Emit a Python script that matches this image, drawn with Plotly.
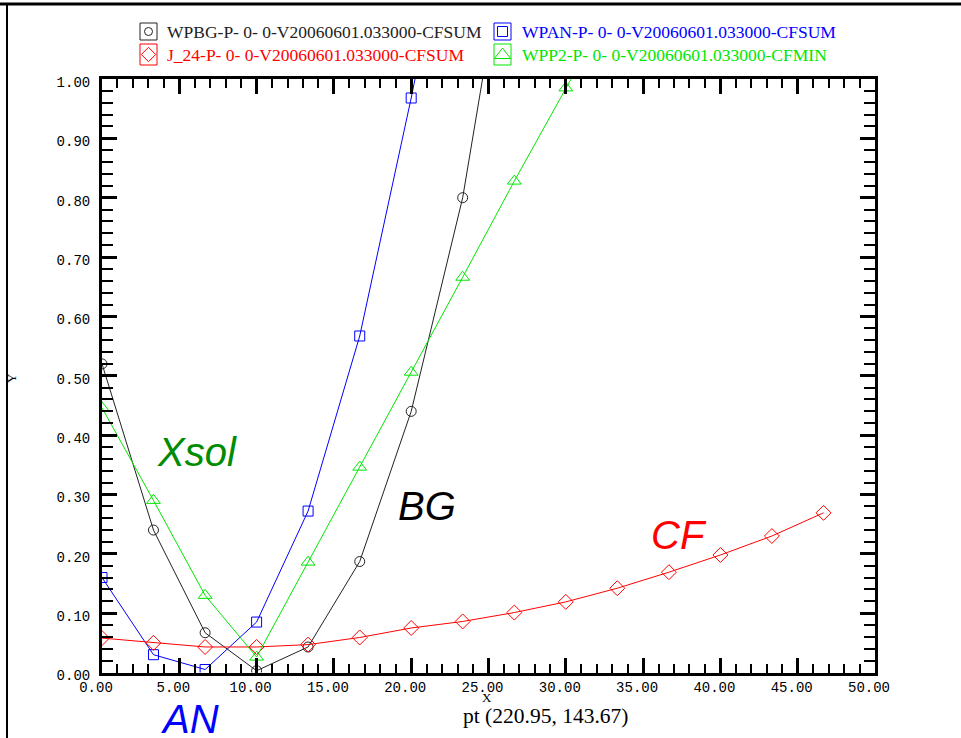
import plotly.graph_objects as go

# ---- data ----
x_pts = [0.0, 3.33, 6.67, 10.0, 13.33, 16.67, 20.0, 23.33, 26.67, 30.0,
         33.33, 36.67, 40.0, 43.33, 46.67]

bg_x = [0.0, 3.33, 6.67, 10.0, 13.33, 16.67, 20.0, 23.33, 26.67]
bg_y = [0.52, 0.24, 0.067, 0.003, 0.043, 0.187, 0.44, 0.80, 1.32]

an_x = [0.0, 3.33, 6.67, 10.0, 13.33, 16.67, 20.0, 23.33]
an_y = [0.16, 0.03, 0.005, 0.085, 0.272, 0.567, 0.968, 1.40]

cf_x = x_pts
cf_y = [0.058, 0.05, 0.043, 0.043, 0.047, 0.059, 0.075, 0.086, 0.101,
        0.119, 0.142, 0.169, 0.198, 0.230, 0.269]

xs_x = [0.0, 3.33, 6.67, 10.0, 13.33, 16.67, 20.0, 23.33, 26.67, 30.0, 33.33]
xs_y = [0.446, 0.29, 0.13, 0.026, 0.186, 0.346, 0.506, 0.666, 0.828, 0.985, 1.14]

names = ["WPBG-P- 0- 0-V20060601.033000-CFSUM",
         "WPAN-P- 0- 0-V20060601.033000-CFSUM",
         "J_24-P- 0- 0-V20060601.033000-CFSUM",
         "WPP2-P- 0- 0-V20060601.033000-CFMIN"]

BLACK = "#222222"
BLUE = "#0000ff"
RED = "#ff0000"
GREEN = "#00e600"

W, H = 961, 738
# plot area in pixels
PL, PR, PT, PB = 102, 875, 79, 672.5

fig = go.Figure()

series = [
    (bg_x, bg_y, BLACK, "circle-open", 10, names[0]),
    (an_x, an_y, BLUE, "square-open", 10, names[1]),
    (cf_x, cf_y, RED, "diamond-open", 11.5, names[2]),
    (xs_x, xs_y, GREEN, "triangle-up-open", 12, names[3]),
]
for xx, yy, col, sym, sz, nm in series:
    fig.add_trace(go.Scatter(
        x=xx, y=yy, mode="lines+markers", name=nm,
        line=dict(color=col, width=1),
        marker=dict(symbol=sym, size=sz, color=col, line=dict(color=col, width=1)),
        showlegend=False, xaxis="x", yaxis="y"))

# ---- legend (manual, pixel coords on overlay axis) ----
leg = [
    (140, 157, 23, 40, 148.5, 31.5, "circle-open", 8, BLACK, names[0], 165, 32),
    (494, 511, 23, 40, 502.5, 31.5, "square-open", 10, BLUE, names[1], 520, 32),
    (140, 157, 44, 65, 148.5, 54.5, "diamond-open", 11, RED, names[2], 165, 55),
    (494, 511, 44, 65, 502.5, 55, "triangle-up-open", 14, GREEN, names[3], 520, 55),
]
shapes = []
annotations = []
for x0, x1, y0, y1, mx, my, sym, sz, col, nm, tx, ty in leg:
    shapes.append(dict(type="rect", xref="x2", yref="y2", x0=x0, x1=x1, y0=y0, y1=y1,
                       line=dict(color=col, width=1)))
    fig.add_trace(go.Scatter(x=[mx], y=[my], mode="markers", xaxis="x2", yaxis="y2",
                             marker=dict(symbol=sym, size=sz, color=col,
                                         line=dict(color=col, width=1)),
                             showlegend=False, hoverinfo="skip"))
    annotations.append(dict(xref="x2", yref="y2", x=tx, y=ty, text=nm, showarrow=False,
                            xanchor="left", yanchor="middle",
                            font=dict(family="Liberation Serif", size=17.5, color=col)))

# outer frame lines
shapes.append(dict(type="line", xref="x2", yref="y2", x0=0, x1=W, y0=4, y1=4,
                   line=dict(color="black", width=3)))
shapes.append(dict(type="line", xref="x2", yref="y2", x0=7, x1=7, y0=4, y1=H,
                   line=dict(color="black", width=2)))

# big labels
big = [("Xsol", 197, 452, "rgb(0,140,0)"),
       ("BG", 427, 506, "black"),
       ("CF", 679, 535, RED),
       ("AN", 190, 719, BLUE)]
for t, x, y, c in big:
    annotations.append(dict(xref="x2", yref="y2", x=x, y=y, text="<i>%s</i>" % t,
                            showarrow=False, xanchor="center", yanchor="middle",
                            font=dict(family="Liberation Sans", size=40, color=c)))

annotations.append(dict(xref="x2", yref="y2", x=545, y=716, text="pt (220.95, 143.67)",
                        showarrow=False, xanchor="center", yanchor="middle",
                        font=dict(family="Liberation Serif", size=21.5, color="black")))
annotations.append(dict(xref="x2", yref="y2", x=487, y=697, text="X",
                        showarrow=False, xanchor="center", yanchor="middle",
                        font=dict(family="Liberation Serif", size=13, color="black")))
annotations.append(dict(xref="x2", yref="y2", x=11, y=378, text="Y", textangle=-90,
                        showarrow=False, xanchor="center", yanchor="middle",
                        font=dict(family="Liberation Serif", size=13, color="black")))

tickfont = dict(family="Liberation Mono", size=14, color="black")

fig.update_layout(
    width=W, height=H, autosize=False,
    margin=dict(l=0, r=0, t=0, b=0, pad=0),
    paper_bgcolor="white", plot_bgcolor="rgba(0,0,0,0)",
    showlegend=False,
    shapes=shapes, annotations=annotations,
    xaxis=dict(domain=[PL / W, PR / W], range=[0, 50], anchor="y", automargin=False,
               tick0=0, dtick=5, tickformat=".2f", ticks="inside", ticklen=15,
               tickwidth=3, tickcolor="black", showline=True, linewidth=3,
               linecolor="black", mirror="ticks", showgrid=False, zeroline=False,
               tickfont=tickfont, ticklabelshift=-6, ticklabelstandoff=0,
               minor=dict(ticks="inside", dtick=1, ticklen=9, tickwidth=1.5,
                          tickcolor="black", showgrid=False)),
    yaxis=dict(domain=[1 - PB / H, 1 - PT / H], range=[0, 1], anchor="x", automargin=False,
               tick0=0, dtick=0.1, tickformat=".2f", ticks="inside", ticklen=15,
               tickwidth=3, tickcolor="black", showline=True, linewidth=3,
               linecolor="black", mirror="ticks", showgrid=False, zeroline=False,
               tickfont=tickfont, ticklabelshift=3, ticklabelstandoff=6,
               minor=dict(ticks="inside", dtick=0.02, ticklen=11, tickwidth=1.5,
                          tickcolor="black", showgrid=False)),
    xaxis2=dict(domain=[0, 1], range=[0, W], anchor="y2", visible=False,
                fixedrange=True, automargin=False),
    yaxis2=dict(domain=[0, 1], range=[H, 0], anchor="x2", visible=False,
                fixedrange=True, automargin=False),
)

fig.write_html("out.html", config={"displayModeBar": False},
               post_script="document.body.style.margin='0';document.body.style.overflow='hidden';")
